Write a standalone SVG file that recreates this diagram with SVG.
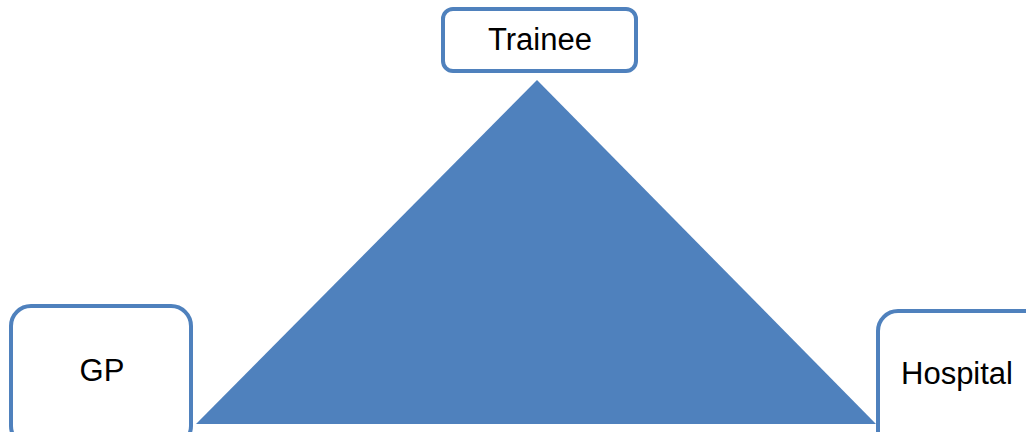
<svg xmlns="http://www.w3.org/2000/svg" width="1026" height="432" viewBox="0 0 1026 432">
<style>
.box{fill:#fff;stroke:#4F81BD;stroke-width:4}
.lbl{font-family:"Liberation Sans",Arial,sans-serif;font-size:31px;fill:#000;text-anchor:middle}
</style>
<rect width="1026" height="432" fill="#fff"/>
<g id="connectors">
<polygon points="537,80 196,424 876,424" fill="#4F81BD"/>
</g>
<g id="trainee">
<rect class="box" x="443" y="9" width="193" height="62" rx="10"/>
<text class="lbl" x="540" y="50">Trainee</text>
</g>
<g id="gp">
<rect class="box" x="11" y="306" width="180" height="140" rx="20"/>
<text class="lbl" x="102" y="381">GP</text>
</g>
<g id="hospital">
<rect class="box" x="878" y="311" width="170" height="140" rx="20"/>
<text class="lbl" x="957" y="384">Hospital</text>
</g>
</svg>
